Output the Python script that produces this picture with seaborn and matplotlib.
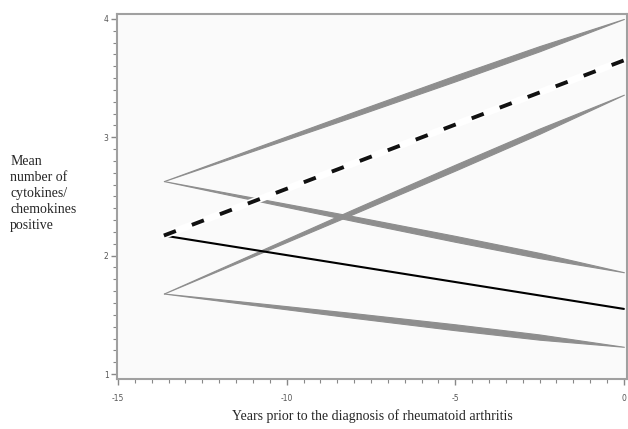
import numpy as np
import pandas as pd
import matplotlib
matplotlib.use("Agg")
import matplotlib.pyplot as plt
from matplotlib.ticker import MultipleLocator
import seaborn as sns

sns.set_style("white")

# fitted mean lines (years before diagnosis, mean count)
line_x = [-13.64, 0.0]
dashed_y = [2.17, 3.65]
solid_y = [2.17, 1.55]

# grey simulated confidence bands: lower and upper edges at these x positions
band_x = [-13.64, -11.0, -8.0, -5.0, -2.5, 0.0]
band1_lo = [2.630, 2.885, 3.176, 3.473, 3.727, 4.000]
band1_hi = [2.630, 2.905, 3.216, 3.523, 3.771, 4.000]
band2_lo = [1.680, 1.995, 2.355, 2.719, 3.030, 3.360]
band2_hi = [1.680, 2.015, 2.395, 2.769, 3.074, 3.360]
band3_lo = [2.630, 2.471, 2.292, 2.117, 1.979, 1.860]
band3_hi = [2.630, 2.491, 2.332, 2.167, 2.023, 1.860]
band4_lo = [1.680, 1.583, 1.474, 1.370, 1.290, 1.230]
band4_hi = [1.680, 1.603, 1.514, 1.420, 1.334, 1.230]

xticks = [-15, -10, -5, 0]
xtick_labels = ["-15", "-10", "-5", "0"]
yticks = [1, 2, 3, 4]

fig = plt.figure(figsize=(6.28, 4.29), dpi=100)
ax = fig.add_axes([0.1863, 0.1166, 0.812, 0.8508])
ax.set_facecolor("#fafafa")

band_col = "#8e8e8e"
for lo, hi in [(band1_lo, band1_hi), (band2_lo, band2_hi),
               (band3_lo, band3_hi), (band4_lo, band4_hi)]:
    ax.fill_between(band_x, lo, hi, color=band_col, linewidth=0.8,
                    edgecolor=band_col)

df = pd.DataFrame({"x": line_x, "dashed": dashed_y, "solid": solid_y})
sns.lineplot(data=df, x="x", y="solid", ax=ax, color="black", linewidth=1.5)
sns.lineplot(data=df, x="x", y="dashed", ax=ax, color="white", linewidth=5)
sns.lineplot(data=df, x="x", y="dashed", ax=ax, color="#111111",
             linewidth=2.8, dashes=False)
ax.lines[-1].set_dashes((3.3, 4.4))

ax.set_xlim(-15.03, 0.09)
ax.set_ylim(0.958, 4.042)
ax.set_xticks(xticks)
ax.set_xticklabels(xtick_labels)
ax.set_yticks(yticks)
ax.xaxis.set_minor_locator(MultipleLocator(0.5))
ax.yaxis.set_minor_locator(MultipleLocator(0.1))
ax.tick_params(axis="both", which="both", bottom=True, left=True,
               top=False, right=False)
ax.tick_params(axis="both", which="major", direction="out", length=4,
               width=1, color="#888888", labelsize=5.5, labelcolor="#555555",
               pad=2)
ax.tick_params(axis="both", which="minor", direction="out", length=3,
               width=0.8, color="#888888")
ax.tick_params(axis="x", which="major", pad=7)
for sp in ax.spines.values():
    sp.set_color("#a0a0a0")
    sp.set_linewidth(1.5)

ax.set_xlabel("")
ax.set_ylabel("")
fig.text(0.593, 0.022, "Years prior to the diagnosis of rheumatoid arthritis",
         family="Liberation Serif", fontsize=10, ha="center", va="baseline")
fig.text(0.016, 0.638, "Mean\nnumber of\ncytokines/\nchemokines\npositive",
         family="Liberation Serif", fontsize=10, ha="left", va="top",
         linespacing=1.3)

fig.savefig("out.png", dpi=100)
